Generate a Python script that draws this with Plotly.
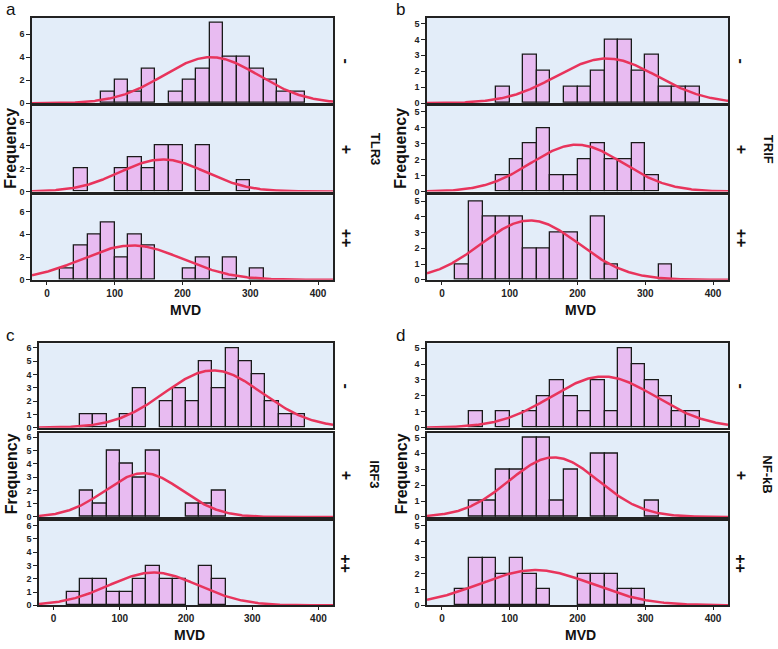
import numpy as np
import plotly.graph_objects as go

# ---------------- data ----------------
bin_starts = list(range(0, 400, 20))   # bins of width 20, 0..400
bin_width = 20

# Panel a : TLR3
a_neg = [0,0,0,0,1,2,1,3,0,1,2,3,7,4,4,3,2,1,1,0]
a_pos = [0,0,2,0,0,2,3,2,4,4,0,4,0,0,1,0,0,0,0,0]
a_pp  = [0,1,3,4,5,2,4,3,0,0,1,2,0,2,0,1,0,0,0,0]
# Panel b : TRIF
b_neg = [0,0,0,0,1,0,3,2,0,1,1,2,4,4,2,3,1,1,1,0]
b_pos = [0,0,0,0,1,2,3,4,1,1,2,3,2,2,3,1,0,0,0,0]
b_pp  = [0,1,5,4,4,4,2,2,3,3,0,4,1,0,0,0,1,0,0,0]
# Panel c : IRF3
c_neg = [0,0,1,1,0,1,3,0,2,3,2,5,3,6,5,4,2,1,1,0]
c_pos = [0,0,2,1,5,4,3,5,0,0,1,1,2,0,0,0,0,0,0,0]
c_pp  = [0,1,2,2,1,1,2,3,2,2,0,3,2,0,0,0,0,0,0,0]
# Panel d : NF-kB
d_neg = [0,0,1,0,1,0,1,2,3,2,1,3,1,5,4,3,2,1,1,0]
d_pos = [0,0,1,1,3,3,5,5,1,3,0,4,4,0,0,1,0,0,0,0]
d_pp  = [0,1,3,3,2,3,2,1,0,0,2,2,2,1,1,0,0,0,0,0]

# fitted normal curves (mean, sd)
a_fit = [(242, 70), (171, 63), (126, 74)]
b_fit = [(243, 74), (199, 68), (130, 72)]
c_fit = [(241, 74), (136, 58), (151, 68)]
d_fit = [(238, 77), (165, 66), (138, 83)]

panel_letters = ["a", "b", "c", "d"]
gene_labels = ["TLR3", "TRIF", "IRF3", "NF-kB"]
group_labels = ["-", "+", "++"]
x_ticks = [0, 100, 200, 300, 400]
y_ranges = [7.4, 5.35, 6.35, 5.3]
y_ticks = [[0, 2, 4, 6], [0, 1, 2, 3, 4, 5], [0, 1, 2, 3, 4, 5, 6], [0, 1, 2, 3, 4, 5]]

panels = [
    [a_neg, a_pos, a_pp],
    [b_neg, b_pos, b_pp],
    [c_neg, c_pos, c_pp],
    [d_neg, d_pos, d_pp],
]
fits = [a_fit, b_fit, c_fit, d_fit]

# ---------------- layout geometry (pixels) ----------------
W, H = 778, 649
panel_x = [(32, 333), (427, 728), (39, 333), (427, 728)]
rows_top = [(18, 104), (107, 193), (197, 282)]
rows_bot = [(346, 431), (436, 521), (525, 610)]
panel_rows = [rows_top, rows_top, rows_bot, rows_bot]
gene_x = [375, 768, 375, 768]

def px(x):
    return x / W

def py(y):
    return 1 - y / H

BG = "#e3edf9"
BAR = "#e8bbf1"
CURVE = "#e8345c"
FONT = "Liberation Sans, Arial, sans-serif"

fig = go.Figure()
layout = dict(
    width=W, height=H, margin=dict(l=0, r=0, t=0, b=0),
    paper_bgcolor="white", showlegend=False,
    font=dict(family=FONT, color="#111"),
)
annotations = []
xr = [-22, 422]
xs = np.linspace(xr[0], xr[1], 400)

k = 0
for p in range(4):
    x0, x1 = panel_x[p]
    for r in range(3):
        k += 1
        counts = panels[p][r]
        n = sum(counts)
        cx = [s + bin_width / 2 for s, c in zip(bin_starts, counts) if c > 0]
        cy = [c for c in counts if c > 0]
        xa = "x" if k == 1 else f"x{k}"
        ya = "y" if k == 1 else f"y{k}"
        fig.add_trace(go.Bar(
            x=cx, y=cy, width=bin_width, xaxis=xa, yaxis=ya,
            marker=dict(color=BAR, line=dict(color="#1a1a1a", width=1.3)),
            hoverinfo="skip",
        ))
        m, sd = fits[p][r]
        ys = n * bin_width / (sd * np.sqrt(2 * np.pi)) * np.exp(-0.5 * ((xs - m) / sd) ** 2)
        fig.add_trace(go.Scatter(
            x=xs, y=ys, mode="lines", xaxis=xa, yaxis=ya,
            line=dict(color=CURVE, width=2.5), hoverinfo="skip",
        ))
        t, b = panel_rows[p][r]
        bottom = (r == 2)
        layout["xaxis" if k == 1 else f"xaxis{k}"] = dict(
            domain=[px(x0), px(x1)], anchor=ya, range=xr,
            showgrid=False, zeroline=False,
            showline=True, mirror=True, linecolor="#222", linewidth=1.5,
            showticklabels=bottom, tickvals=x_ticks,
            ticks="outside" if bottom else "", ticklen=3, tickcolor="#222",
            tickfont=dict(size=10, family=FONT, color="#222", weight="bold"),
        )
        layout["yaxis" if k == 1 else f"yaxis{k}"] = dict(
            domain=[py(b), py(t)], anchor=xa, range=[0, y_ranges[p]],
            showgrid=False, zeroline=False,
            showline=True, mirror=True, linecolor="#222", linewidth=1.5,
            tickvals=y_ticks[p], ticks="outside", ticklen=4, tickcolor="#222",
            tickfont=dict(size=9, family=FONT, color="#222", weight="bold"),
        )
        # group label at right (rotated)
        annotations.append(dict(
            text=f"<b>{group_labels[r]}</b>", xref="paper", yref="paper",
            x=px(x1 + 13), y=py((t + b) / 2), showarrow=False, textangle=90,
            font=dict(size=16, family=FONT, color="#111"),
            xanchor="center", yanchor="middle",
        ))
    # panel decorations
    rt = panel_rows[p][0][0]
    rb = panel_rows[p][2][1]
    letter_x = 4 if p in (0, 2) else 394
    annotations.append(dict(
        text=panel_letters[p], xref="paper", yref="paper",
        x=px(letter_x), y=py(rt - 8), showarrow=False,
        font=dict(size=17, family=FONT, color="#111"),
        xanchor="left", yanchor="middle",
    ))
    annotations.append(dict(
        text="<b>Frequency</b>", xref="paper", yref="paper",
        x=px(11 if p in (0, 2) else 401), y=py((rt + rb) / 2), showarrow=False,
        textangle=-90, font=dict(size=16, family=FONT, color="#111"),
        xanchor="center", yanchor="middle",
    ))
    annotations.append(dict(
        text="<b>MVD</b>", xref="paper", yref="paper",
        x=px((x0 + x1) / 2 + 3), y=py(rb + 30), showarrow=False,
        font=dict(size=14, family=FONT, color="#111"),
        xanchor="center", yanchor="middle",
    ))
    annotations.append(dict(
        text=f"<b>{gene_labels[p]}</b>", xref="paper", yref="paper",
        x=px(gene_x[p]), y=py((rt + rb) / 2), showarrow=False, textangle=90,
        font=dict(size=13, family=FONT, color="#111"),
        xanchor="center", yanchor="middle",
    ))

layout["annotations"] = annotations
layout["plot_bgcolor"] = BG
fig.update_layout(**layout)
fig.update_layout(bargap=0)
fig.write_html(
    "out.html",
    config={"displayModeBar": False},
    post_script="document.body.style.margin='0';document.body.style.overflow='hidden';",
)
